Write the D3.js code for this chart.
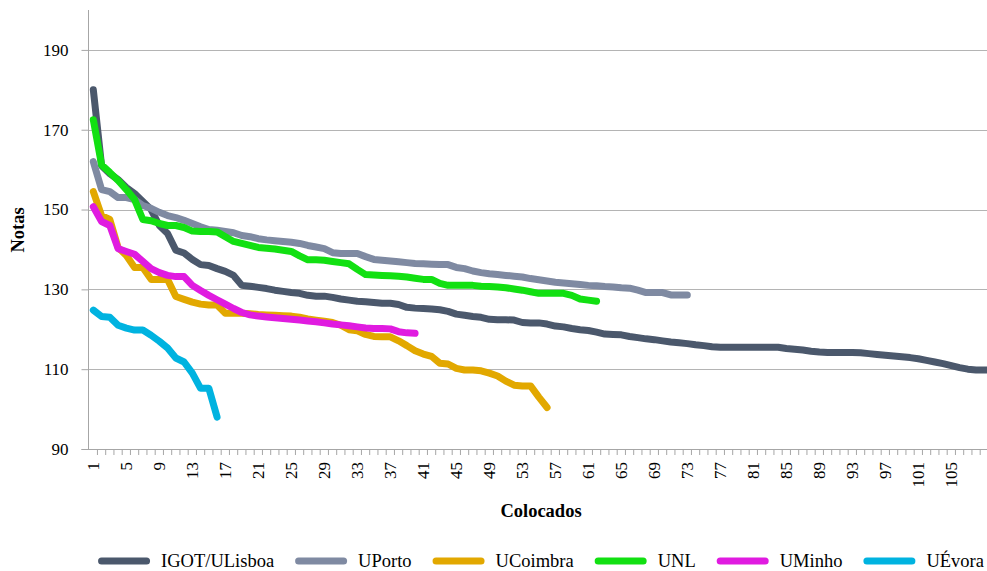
<!DOCTYPE html>
<html>
<head>
<meta charset="utf-8">
<script src="https://cdn.jsdelivr.net/npm/d3@7"></script>
<style>
  html, body { margin: 0; padding: 0; background: #fff; }
  svg { display: block; }
  svg text { font-family: "Liberation Serif", "Times New Roman", serif !important; }
</style>
</head>
<body>
<svg id="chart" width="987" height="571"></svg>
<script>
// ---------- data ----------
const categories = d3.range(1, 111);          // Colocados 1..110 (plot is cut at the right edge)
const xTickLabels = d3.range(1, 106, 4);      // 1, 5, 9, ... 105
const yTicks = [90, 110, 130, 150, 170, 190];

const seriesNames = ["IGOT/ULisboa", "UPorto", "UCoimbra", "UNL", "UMinho", "UÉvora"];

const igot = [180, 161, 159, 157.5, 155.5, 154, 152, 150, 146, 144,
  139.8, 139.1, 137.5, 136.2, 136, 135.2, 134.5, 133.5, 131, 130.8,
  130.5, 130.2, 129.8, 129.5, 129.2, 129, 128.5, 128.3, 128.3, 128,
  127.6, 127.3, 127, 126.9, 126.7, 126.5, 126.5, 126.2, 125.5, 125.3,
  125.2, 125.1, 124.9, 124.5, 123.8, 123.5, 123.2, 123, 122.5, 122.4,
  122.4, 122.3, 121.7, 121.6, 121.6, 121.3, 120.8, 120.6, 120.2, 119.9,
  119.7, 119.3, 118.8, 118.7, 118.6, 118.2, 117.9, 117.6, 117.4, 117.1,
  116.8, 116.6, 116.4, 116.1, 115.9, 115.6, 115.5, 115.5, 115.5, 115.5,
  115.5, 115.5, 115.5, 115.5, 115.2, 115, 114.8, 114.5, 114.3, 114.2,
  114.2, 114.2, 114.2, 114.1, 113.9, 113.7, 113.5, 113.3, 113.1, 112.9,
  112.6, 112.2, 111.8, 111.4, 110.9, 110.4, 110, 109.8, 109.8, 109.8];

const uporto = [162, 155, 154.5, 153, 153, 152.5, 151, 150.3, 149.3, 148.5,
  148, 147.3, 146.5, 145.7, 145, 144.8, 144.5, 144.2, 143.5, 143.2,
  142.7, 142.4, 142.2, 142, 141.8, 141.5, 141, 140.6, 140.2, 139.2,
  139, 139, 139, 138.2, 137.5, 137.3, 137.1, 136.9, 136.7, 136.5,
  136.4, 136.3, 136.2, 136.2, 135.5, 135.2, 134.6, 134.2, 133.9, 133.7,
  133.5, 133.3, 133.1, 132.7, 132.4, 132.1, 131.8, 131.6, 131.4, 131.2,
  131, 130.9, 130.7, 130.6, 130.4, 130.3, 129.8, 129.2, 129.2, 129.2,
  128.6, 128.6, 128.6];

const ucoimbra = [154.5, 148.5, 147.5, 140.5, 138.5, 135.5, 135.5, 132.5, 132.5, 132.5,
  128.2, 127.5, 126.8, 126.3, 126.1, 126.1, 124, 124, 124, 123.9,
  123.7, 123.6, 123.5, 123.4, 123.3, 123, 122.6, 122.3, 122, 121.7,
  121, 119.9, 119.6, 118.7, 118.2, 118.1, 118.1, 117.1, 115.9, 114.6,
  113.8, 113.2, 111.5, 111.3, 110.2, 109.8, 109.8, 109.6, 109, 108.3,
  107, 106, 105.8, 105.8, 103, 100.4];

const unl = [172.5, 161.2, 159.3, 157.3, 155, 152.5, 147.5, 147.2, 146.5, 146,
  146, 145.5, 144.6, 144.5, 144.5, 144.4, 143.2, 142, 141.5, 141,
  140.5, 140.3, 140.1, 139.8, 139.5, 138.4, 137.4, 137.4, 137.3, 137,
  136.7, 136.4, 135, 133.7, 133.6, 133.5, 133.4, 133.3, 133.1, 132.8,
  132.5, 132.5, 131.5, 131, 131, 131, 131, 130.8, 130.7, 130.6,
  130.4, 130.1, 129.8, 129.4, 129, 129, 129, 129, 128.5, 127.6,
  127.3, 127];

const uminho = [150.7, 147, 146, 140.2, 139.5, 138.8, 137, 135.2, 134.2, 133.5,
  133.2, 133.2, 131, 129.7, 128.5, 127.4, 126.3, 125.2, 124.2, 123.6,
  123.3, 123.1, 122.9, 122.7, 122.5, 122.3, 122.1, 121.9, 121.6, 121.3,
  121.1, 120.9, 120.6, 120.3, 120.2, 120.2, 120.1, 119.4, 119.1, 119];

const uevora = [124.8, 123.2, 123, 121, 120.3, 119.8, 119.8, 118.5, 117, 115.3,
  112.8, 111.8, 109, 105.2, 105.2, 98];

const seriesValues = [igot, uporto, ucoimbra, unl, uminho, uevora];
const seriesColors = ["#4b586c", "#7f8aa2", "#e2a800", "#12e012", "#e01be0", "#00b3e0"];

// ---------- layout ----------
const FONT = "'Liberation Serif', 'Times New Roman', serif";
const svg = d3.select("#chart");
const plotLeft = 88.5, plotTop = 10, plotBottom = 449, plotRight = 987;
const step = 8.25;

const x = d3.scaleBand()
  .domain(categories)
  .range([89.2, 89.2 + categories.length * step])
  .paddingInner(0).paddingOuter(0);
const xc = c => x(c) + x.bandwidth() / 2;

const y = d3.scaleLinear().domain([90, 200]).range([plotBottom, plotTop]);

// gridlines
svg.append("g")
  .selectAll("line")
  .data(yTicks.filter(v => v > 90))
  .join("line")
  .attr("x1", plotLeft).attr("x2", plotRight)
  .attr("y1", d => Math.round(y(d)) + 0.5).attr("y2", d => Math.round(y(d)) + 0.5)
  .attr("stroke", "#b4b4b4").attr("stroke-width", 1);

// y axis
const yAxis = d3.axisLeft(y).tickValues(yTicks).tickSize(7).tickPadding(13).tickFormat(d3.format("d"));
const gy = svg.append("g").attr("transform", `translate(${plotLeft},0)`).call(yAxis);
gy.attr("font-family", FONT);
gy.select(".domain").attr("stroke", "#a6a6a6").attr("d", `M-0,${plotTop}V${plotBottom}`);
gy.selectAll(".tick line").attr("stroke", "#a6a6a6");
gy.selectAll(".tick text").attr("font-size", 17).attr("fill", "#000")
  .style("font-family", FONT);

// x axis line
svg.append("line")
  .attr("x1", plotLeft - 7).attr("x2", plotRight)
  .attr("y1", plotBottom + 0.5).attr("y2", plotBottom + 0.5)
  .attr("stroke", "#a6a6a6");

// x tick marks at category boundaries
svg.append("g")
  .selectAll("line")
  .data(categories)
  .join("line")
  .attr("x1", d => x(d) + x.bandwidth()).attr("x2", d => x(d) + x.bandwidth())
  .attr("y1", plotBottom).attr("y2", plotBottom + 6)
  .attr("stroke", "#a6a6a6");

// x tick labels (rotated)
svg.append("g")
  .selectAll("text")
  .data(xTickLabels)
  .join("text")
  .attr("transform", d => `translate(${xc(d)},${plotBottom + 13}) rotate(-90)`)
  .attr("text-anchor", "end")
  .attr("dy", "0.35em")
  .attr("font-size", 17)
  .attr("fill", "#000")
  .style("font-family", FONT)
  .text(d => d);

// lines
const line = d3.line()
  .x((d, i) => xc(categories[i]))
  .y(d => y(d));

svg.append("g")
  .selectAll("path")
  .data(seriesValues)
  .join("path")
  .attr("d", d => line(d))
  .attr("fill", "none")
  .attr("stroke", (d, i) => seriesColors[i])
  .attr("stroke-width", 7)
  .attr("stroke-linejoin", "round")
  .attr("stroke-linecap", "round");

// axis titles
svg.append("text")
  .attr("transform", `translate(24,230) rotate(-90)`)
  .attr("text-anchor", "middle")
  .attr("font-size", 18.5).attr("font-weight", "bold")
  .style("font-family", FONT)
  .text("Notas");

svg.append("text")
  .attr("x", 541).attr("y", 517)
  .attr("text-anchor", "middle")
  .attr("font-size", 18.5).attr("font-weight", "bold")
  .style("font-family", FONT)
  .text("Colocados");

// legend
const legendY = 561;
const lg = svg.append("g");
const items = lg.selectAll("g").data(seriesNames).join("g");
items.append("line")
  .attr("x1", 3.5).attr("x2", 48.5)
  .attr("y1", 0).attr("y2", 0)
  .attr("stroke", (d, i) => seriesColors[i])
  .attr("stroke-width", 7)
  .attr("stroke-linecap", "round");
items.append("text")
  .attr("x", 63).attr("y", 0).attr("dy", "0.35em")
  .attr("font-size", 18.5)
  .style("font-family", FONT)
  .text(d => d);
let cursor = 0;
const gap = 21;
items.each(function () {
  const g = d3.select(this);
  const w = 63 + g.select("text").node().getComputedTextLength();
  g.attr("data-x", cursor);
  cursor += w + gap;
});
const totalW = cursor - gap;
const startX = 541 - totalW / 2;
items.attr("transform", function () {
  return `translate(${startX + (+d3.select(this).attr("data-x"))},${legendY})`;
});
</script>
</body>
</html>
